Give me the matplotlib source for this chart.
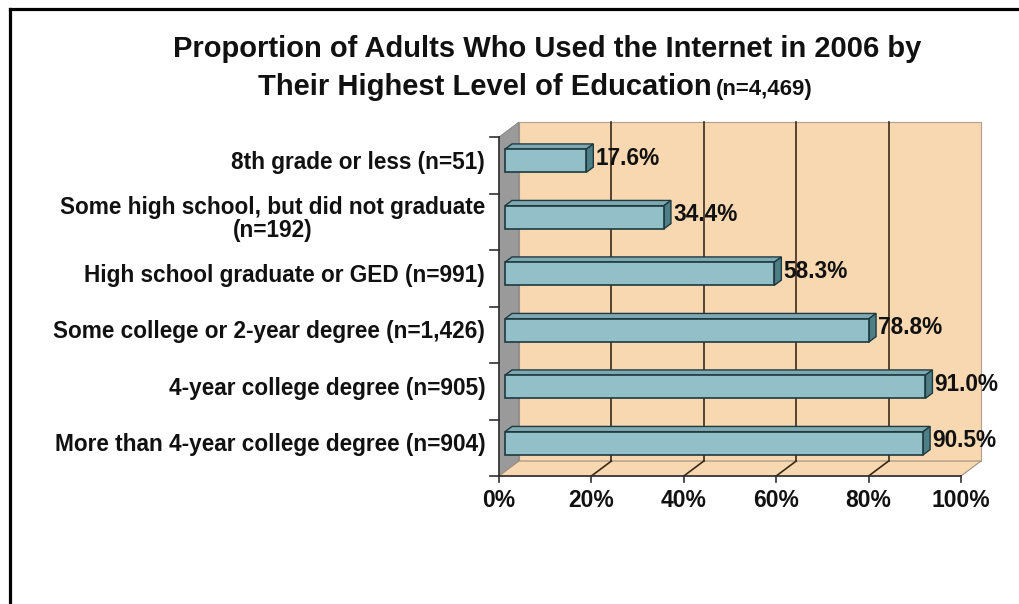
import matplotlib.pyplot as plt
from matplotlib.patches import Polygon, Rectangle
from matplotlib.lines import Line2D

plt.rcParams['font.family'] = ['Liberation Sans', 'DejaVu Sans']

# data
categories = ["8th grade or less (n=51)",
              "Some high school, but did not graduate\n(n=192)",
              "High school graduate or GED (n=991)",
              "Some college or 2-year degree (n=1,426)",
              "4-year college degree (n=905)",
              "More than 4-year college degree (n=904)"]
values = [17.6, 34.4, 58.3, 78.8, 91.0, 90.5]
xticks = [0, 20, 40, 60, 80, 100]

# colours
wall = '#F7D8B0'
side = '#9A9A9A'
grid = '#3C2A18'
bar_front = '#93C0C8'
bar_top = '#7FA9B1'
bar_side = '#4E7E86'
bar_edge = '#1E3A40'

fig = plt.figure(figsize=(10.19, 6.04), dpi=100)
ax = fig.add_axes([499/1019, 128/604, 462/1019, 339/604])
ax.set_xlim(0, 100)
ax.set_ylim(0, 6)
ax.axis('off')

n = len(categories)
DX, DY = 4.33, 0.265      # depth of the 3d box in data units
f0, f1 = 0.3, 0.65        # bars sit between these depth fractions
bh = 0.41                 # bar thickness

# back wall, side wall, floor
ax.add_patch(Rectangle((DX, DY), 100, n, facecolor=wall, edgecolor='#B0A090', lw=0.8, clip_on=False, zorder=1))
ax.add_patch(Polygon([(0, 0), (DX, DY), (DX, n + DY), (0, n)], closed=True,
                     facecolor=side, edgecolor='#808080', lw=0.6, clip_on=False, zorder=2))
ax.add_patch(Polygon([(0, 0), (100, 0), (100 + DX, DY), (DX, DY)], closed=True,
                     facecolor=wall, edgecolor='#A09080', lw=0.8, clip_on=False, zorder=2))

# gridlines on wall and floor
for t in xticks[1:-1]:
    ax.plot([t + DX, t + DX], [DY, n + DY], color=grid, lw=1.2, clip_on=False, zorder=3)
    ax.plot([t, t + DX], [0, DY], color=grid, lw=1.2, clip_on=False, zorder=3)

# axis lines and ticks
ax.plot([0, 0], [0, n], color='#303030', lw=1.2, clip_on=False, zorder=4)
ax.plot([0, 100], [0, 0], color='#303030', lw=1.2, clip_on=False, zorder=4)
for k in range(n + 1):
    ax.plot([-1.9, 0], [k, k], color='#303030', lw=1.2, clip_on=False, zorder=4)
for t in xticks:
    ax.plot([t, t], [0, -0.11], color='#303030', lw=1.2, clip_on=False, zorder=4)
    ax.text(t, -0.44, f'{t}%', ha='center', va='center', fontsize=16.5, fontweight='bold', color='#111111')

# bars
bdx, bdy = (f1 - f0) * DX, (f1 - f0) * DY
for i, (lab, v) in enumerate(zip(categories, values)):
    yc = n - (i + 0.5)
    x0 = f0 * DX
    y0 = yc + f0 * DY - bh / 2
    ax.add_patch(Polygon([(x0, y0 + bh), (x0 + v, y0 + bh), (x0 + v + bdx, y0 + bh + bdy), (x0 + bdx, y0 + bh + bdy)],
                         closed=True, facecolor=bar_top, edgecolor=bar_edge, lw=1, clip_on=False, zorder=5))
    ax.add_patch(Polygon([(x0 + v, y0), (x0 + v + bdx, y0 + bdy), (x0 + v + bdx, y0 + bh + bdy), (x0 + v, y0 + bh)],
                         closed=True, facecolor=bar_side, edgecolor=bar_edge, lw=1, clip_on=False, zorder=5))
    ax.add_patch(Rectangle((x0, y0), v, bh, facecolor=bar_front, edgecolor=bar_edge, lw=1.2, clip_on=False, zorder=6))
    ax.text(x0 + v + bdx + 0.5, yc + 0.12, f'{v:.1f}%', ha='left', va='center',
            fontsize=16.3, fontweight='bold', color='#111111', zorder=7)
    ax.text(-3.0, yc + 0.05, lab, ha='right', va='center', multialignment='center',
            fontsize=16.3, fontweight='bold', color='#111111', linespacing=1.0)

# title
fig.text(547/1019, 1 - 57/604, 'Proportion of Adults Who Used the Internet in 2006 by',
         ha='center', va='baseline', fontsize=21, fontweight='bold', color='#111111')
fig.text(712/1019, 1 - 95/604, 'Their Highest Level of Education',
         ha='right', va='baseline', fontsize=21, fontweight='bold', color='#111111')
fig.text(716/1019, 1 - 95/604, '(n=4,469)',
         ha='left', va='baseline', fontsize=16, fontweight='bold', color='#111111')

# frame around the slide
fig.add_artist(Line2D([9.5/1019, 9.5/1019], [0, 1 - 9/604], color='black', lw=2.3))
fig.add_artist(Line2D([9.5/1019, 1], [1 - 9/604, 1 - 9/604], color='black', lw=2.3))

fig.savefig('out.png', dpi=100)
